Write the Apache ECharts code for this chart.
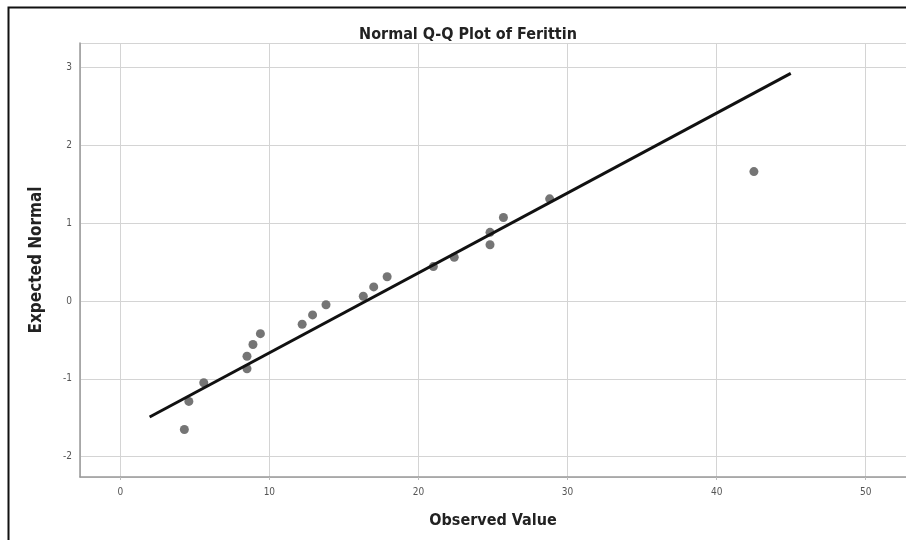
<!DOCTYPE html>
<html>
<head>
<meta charset="utf-8">
<script src="https://cdn.jsdelivr.net/npm/echarts@6/dist/echarts.min.js"></script>
<style>
html,body{margin:0;padding:0;background:#fff;}
#c{width:906px;height:540px;}
</style>
</head>
<body>
<div id="c"></div>
<script>
var observed = [4.3, 4.6, 5.6, 8.5, 8.5, 8.9, 9.4, 12.2, 12.9, 13.8, 16.3, 17.0, 17.9, 21.0, 22.4, 24.8, 24.8, 25.7, 28.8, 42.5];
var expected = [-1.65, -1.29, -1.05, -0.87, -0.71, -0.56, -0.42, -0.30, -0.18, -0.05, 0.06, 0.18, 0.31, 0.44, 0.56, 0.72, 0.88, 1.07, 1.31, 1.66];
// Reference line endpoints
var lineX = [1.97, 44.97];
var lineY = [-1.49, 2.92];
var xTicks = [0, 10, 20, 30, 40, 50];
var yTicks = [-2, -1, 0, 1, 2, 3];

var font = '"DejaVu Sans Condensed","DejaVu Sans",sans-serif';
var points = observed.map(function (v, i) { return [v, expected[i]]; });
var linePts = lineX.map(function (v, i) { return [v, lineY[i]]; });

var chart = echarts.init(document.getElementById('c'), null, {renderer: 'canvas'});
chart.setOption({
  animation: false,
  backgroundColor: '#fff',
  title: {
    text: 'Normal Q-Q Plot of Ferittin',
    left: 463, top: 22, textAlign: 'center',
    textStyle: {fontFamily: font, fontWeight: 'bold', fontSize: 16, color: '#222'}
  },
  graphic: [{
    type: 'rect', left: 6, top: 5, silent: true,
    shape: {width: 920, height: 560},
    style: {fill: 'none', stroke: '#111', lineWidth: 2}
  }],
  grid: {left: 80, top: 43, right: 0, bottom: 63},
  xAxis: {
    type: 'value', min: -2.7, max: 52.7, splitNumber: 5,
    name: 'Observed Value', nameLocation: 'middle', nameGap: 36,
    nameTextStyle: {fontFamily: font, fontWeight: 'bold', fontSize: 16, color: '#222'},
    axisLine: {show: true, onZero: false, lineStyle: {color: '#999', width: 1.5}},
    axisTick: {show: true, length: 3, lineStyle: {color: '#bbb'}},
    axisLabel: {
      showMinLabel: false, showMaxLabel: false, margin: 10,
      fontFamily: font, fontSize: 10, color: '#555',
      formatter: function (v) { return xTicks.indexOf(v) >= 0 ? String(v) : ''; }
    },
    splitLine: {show: true, lineStyle: {color: '#d4d4d4', width: 1}}
  },
  yAxis: {
    type: 'value', min: -2.26, max: 3.31, splitNumber: 5,
    name: 'Expected Normal', nameLocation: 'middle', nameGap: 35,
    nameTextStyle: {fontFamily: font, fontWeight: 'bold', fontSize: 17, color: '#222'},
    axisLine: {show: true, onZero: false, lineStyle: {color: '#999', width: 1.5}},
    axisTick: {show: false},
    axisLabel: {
      showMinLabel: false, showMaxLabel: false, margin: 8,
      fontFamily: font, fontSize: 10, color: '#555',
      formatter: function (v) { return yTicks.indexOf(v) >= 0 ? String(v) : ''; }
    },
    splitLine: {show: true, lineStyle: {color: '#d4d4d4', width: 1}}
  },
  series: [{
    type: 'line', data: linePts, symbol: 'none', silent: true,
    lineStyle: {color: '#111', width: 3}, z: 3
  }, {
    type: 'scatter', data: points, symbol: 'circle', symbolSize: 9,
    itemStyle: {color: '#666', opacity: 0.9}, z: 2
  }]
});
</script>
</body>
</html>
